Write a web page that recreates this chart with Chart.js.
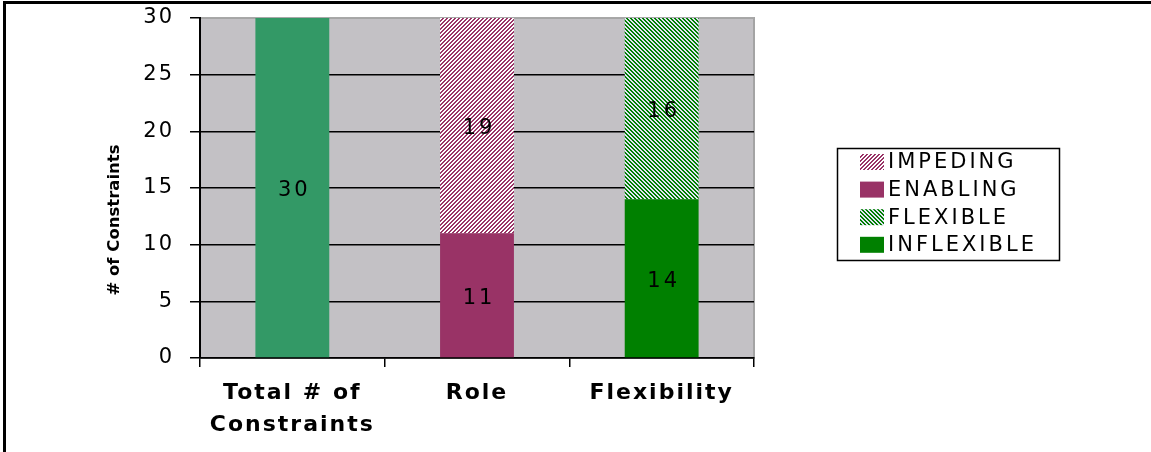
<!DOCTYPE html>
<html>
<head>
<meta charset="utf-8">
<script src="https://cdn.jsdelivr.net/npm/chart.js@4.4.1/dist/chart.umd.min.js"></script>
<style>
  html, body { margin: 0; padding: 0; background: #fff; }
  #wrap { width: 1151px; height: 452px; }
</style>
</head>
<body>
<div id="wrap"><canvas id="constraintsChart" width="1151" height="452"></canvas></div>
<script>
// chart data
const categories = [['Total # of', 'Constraints'], 'Role', 'Flexibility'];
const totalValues = [30, null, null];
const enablingValues = [null, 11, null];
const impedingValues = [null, 19, null];
const inflexibleValues = [null, null, 14];
const flexibleValues = [null, null, 16];
const yMin = 0, yMax = 30, yStep = 5;
const legendOrder = ['IMPEDING', 'ENABLING', 'FLEXIBLE', 'INFLEXIBLE'];

// small diagonal hatch tile; dir 1 = "/", dir -1 = "\"
function stripes(fg, bg, dir) {
    const c = document.createElement('canvas');
    c.width = 4; c.height = 4;
    const g = c.getContext('2d');
    g.fillStyle = bg;
    g.fillRect(0, 0, 4, 4);
    g.fillStyle = fg;
    for (let y = 0; y < 4; y++) {
        for (let x = 0; x < 4; x++) {
            const k = dir > 0 ? (x + y) % 4 : (x - y + 4) % 4;
            if (k < 2) g.fillRect(x, y, 1, 1);
        }
    }
    return g.createPattern(c, 'repeat');
}

const impedingFill = stripes('#993366', '#ffffff', 1);
const flexibleFill = stripes('#008000', '#e2e4f4', -1);

Chart.defaults.font.family = '"DejaVu Sans", sans-serif';
Chart.defaults.color = '#000';

// gray plot area + the black frame round the picture
const plotBackground = {
    id: 'plotBackground',
    beforeDraw(chart) {
        const { ctx, chartArea: a } = chart;
        ctx.save();
        ctx.fillStyle = '#c3c1c5';
        ctx.fillRect(a.left, a.top, a.right - a.left, a.bottom - a.top);
        ctx.strokeStyle = '#a4a4a4';
        ctx.lineWidth = 2;
        ctx.strokeRect(a.left, a.top, a.right - a.left, a.bottom - a.top);
        ctx.fillStyle = '#000';
        ctx.fillRect(3, 1, chart.width - 3, 3);
        ctx.fillRect(3, 1, 3, chart.height - 1);
        ctx.restore();
        ctx.letterSpacing = '2px';
    }
};

// value in the middle of each bar segment
const barLabels = {
    id: 'barLabels',
    afterDatasetsDraw(chart) {
        const ctx = chart.ctx;
        ctx.save();
        ctx.font = '21px "DejaVu Sans"';
        ctx.letterSpacing = '3px';
        ctx.fillStyle = '#000';
        ctx.textAlign = 'center';
        ctx.textBaseline = 'middle';
        chart.data.datasets.forEach((ds, i) => {
            chart.getDatasetMeta(i).data.forEach((bar, j) => {
                const v = ds.data[j];
                if (v == null) return;
                ctx.fillText(String(v), bar.x + 2, (bar.y + bar.base) / 2 + 3);
            });
        });
        ctx.restore();
    }
};

// boxed legend on the right, y title on the left
const sideItems = {
    id: 'sideItems',
    afterDraw(chart) {
        const ctx = chart.ctx;
        ctx.save();
        ctx.letterSpacing = '0px';
        ctx.translate(115, 220);
        ctx.rotate(-Math.PI / 2);
        ctx.font = 'bold 16.5px "DejaVu Sans"';
        ctx.fillStyle = '#000';
        ctx.textAlign = 'center';
        ctx.textBaseline = 'middle';
        ctx.fillText('# of Constraints', 0, 0);
        ctx.restore();

        ctx.save();
        ctx.strokeStyle = '#000';
        ctx.lineWidth = 1.5;
        ctx.strokeRect(837.5, 148.5, 222, 112);
        ctx.font = '21px "DejaVu Sans"';
        ctx.letterSpacing = '3px';
        ctx.textBaseline = 'middle';
        ctx.textAlign = 'left';
        legendOrder.forEach((name, i) => {
            const ds = chart.data.datasets.find(d => d.label === name);
            const y = 162 + i * 27.6;
            ctx.fillStyle = ds.backgroundColor;
            ctx.fillRect(860, y - 8, 24, 16);
            ctx.fillStyle = '#000';
            ctx.fillText(name, 888, y + 1);
        });
        ctx.restore();
    }
};

const ctx1 = document.getElementById('constraintsChart').getContext('2d');
const constraintsChart = new Chart(ctx1, {
    type: 'bar',
    data: {
        labels: categories,
        datasets: [
            { label: 'TOTAL', data: totalValues, backgroundColor: '#339966' },
            { label: 'ENABLING', data: enablingValues, backgroundColor: '#993366' },
            { label: 'IMPEDING', data: impedingValues, backgroundColor: impedingFill },
            { label: 'INFLEXIBLE', data: inflexibleValues, backgroundColor: '#008000' },
            { label: 'FLEXIBLE', data: flexibleValues, backgroundColor: flexibleFill }
        ]
    },
    options: {
        responsive: false,
        animation: false,
        devicePixelRatio: 1,
        barPercentage: 0.4,
        categoryPercentage: 1,
        layout: {
            autoPadding: false,
            padding: { left: 0, top: 18, right: 397, bottom: 0 }
        },
        plugins: {
            legend: { display: false },
            tooltip: { enabled: false }
        },
        scales: {
            x: {
                stacked: true,
                afterFit: (scale) => {
                    scale.height = 94;
                    scale.paddingLeft = 0;
                    scale.paddingRight = 0;
                },
                grid: {
                    offset: true,
                    drawOnChartArea: false,
                    color: '#000',
                    lineWidth: 1.5,
                    tickLength: 9
                },
                border: { color: '#000', width: 1.5 },
                ticks: {
                    font: { size: 22, weight: 'bold', lineHeight: 1.45 },
                    color: '#000',
                    padding: 10,
                    maxRotation: 0
                }
            },
            y: {
                stacked: true,
                min: yMin,
                max: yMax,
                afterFit: (scale) => {
                    scale.width = 200;
                    scale.paddingTop = 0;
                    scale.paddingBottom = 0;
                },
                grid: {
                    color: (c) => (c.tick && c.tick.value === yMax ? '#a8a8a8' : '#000'),
                    tickColor: '#000',
                    lineWidth: 1.5,
                    tickLength: 10
                },
                border: { color: '#000', width: 2 },
                ticks: {
                    stepSize: yStep,
                    font: { size: 21 },
                    color: '#000',
                    padding: 16
                }
            }
        }
    },
    plugins: [plotBackground, barLabels, sideItems]
});
</script>
</body>
</html>
